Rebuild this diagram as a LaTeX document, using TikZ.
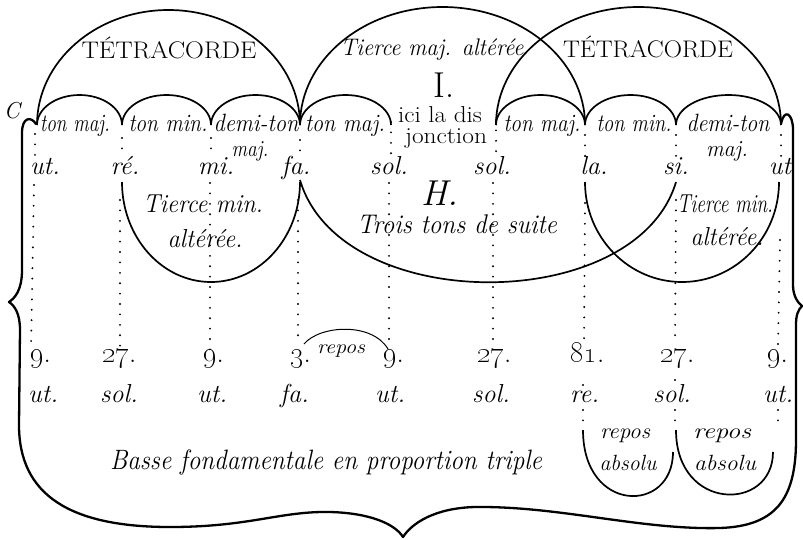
\documentclass[tikz,border=0pt]{standalone}
\usepackage{graphicx}
\newsavebox\fitbox
\newcommand\fitx[2]{\sbox\fitbox{#2}\pgfmathsetmacro\fitr{#1/\the\wd\fitbox}\scalebox{\fitr}[1]{\usebox\fitbox}}
\newcommand\fs[1]{\fontsize{#1}{#1}\selectfont}
\tikzset{
  lab/.style={inner sep=0pt, anchor=base},
  labw/.style={inner sep=0pt, anchor=base west},
  arcline/.style={line width=1.7pt},
  thinarc/.style={line width=1pt},
  dotline/.style={line width=2.1pt, line cap=round, dash pattern=on 0pt off 10.4pt},
  brace/.style={line width=2.3pt, line join=round, line cap=round},
}
\begin{document}
\begin{tikzpicture}[x=1pt,y=-1pt]
\useasboundingbox (0,0) rectangle (803,539);
% big arcs
\draw[arcline] (37,125) arc[start angle=180,end angle=360,x radius=131.5,y radius=115];
\draw[arcline] (300,125) arc[start angle=180,end angle=360,x radius=142.5,y radius=118];
\draw[arcline] (496,125) arc[start angle=180,end angle=360,x radius=142.5,y radius=118];
% small arcs
\foreach \a/\r in {37/42.5,122/44.5,211/44.5,300/45.5,496/44.5,585/45.5,676/52.5}
  \draw[arcline] (\a,125) arc[start angle=180,end angle=360,x radius=\r,y radius=30];
% lower curves
\draw[arcline] (122,182) arc[start angle=180,end angle=0,x radius=89,y radius=100];
\draw[arcline] (300,180) .. controls (340,316) and (636,316) .. (676,182);
\draw[arcline] (585,182) arc[start angle=180,end angle=0,x radius=97,y radius=100];
\draw[thinarc] (304,344) .. controls (320,325) and (372,322) .. (388,349);
\draw[arcline] (583,430) .. controls (583,514) and (673,514) .. (673,452);
\draw[arcline] (676,430) .. controls (676,512) and (773,512) .. (773,452);
% brace
\draw[brace] (36,124) .. controls (31,116) and (22,117) .. (22,133) -- (22,270)
  .. controls (22,290) and (15,298) .. (9,302) .. controls (15,306) and (20,314) .. (20,330)
  -- (19,425) .. controls (19,495) and (70,527) .. (170,527)
  .. controls (250,527) and (280,511) .. (330,512) .. controls (370,513) and (395,524) .. (403,537);
\draw[brace] (403,537) .. controls (412,523) and (435,508) .. (475,507)
  .. controls (560,506) and (640,530) .. (720,528) .. controls (775,526) and (796,500) .. (796,440)
  -- (796,325) .. controls (796,315) and (798,310) .. (802,306)
  .. controls (797,302) and (793,295) .. (793,285) -- (793,130)
  .. controls (793,113) and (784,108) .. (781,124);
% dotted lines
\draw[dotline] (35,134) -- (35,158);  \draw[dotline] (34,185) -- (31,350);
\draw[dotline] (122,138) -- (122,158); \draw[dotline] (120,200) -- (120,347);
\draw[dotline] (211,138) -- (211,158); \draw[dotline] (210,183) -- (210,350);
\draw[dotline] (300,140) -- (300,158); \draw[dotline] (298,200) -- (298,340);
\draw[dotline] (391,122) -- (391,156); \draw[dotline] (389,183) -- (389,345);
\draw[dotline] (496,120) -- (496,158); \draw[dotline] (493,183) -- (493,345);
\draw[dotline] (585,135) -- (585,158); \draw[dotline] (585,203) -- (584,345);
\draw[dotline] (583,385) -- (583,386); \draw[dotline] (583,410) -- (583,428);
\draw[dotline] (676,135) -- (676,160); \draw[dotline] (676,200) -- (675,345);
\draw[dotline] (675,380) -- (675,381); \draw[dotline] (675,410) -- (675,428);
\draw[dotline] (781,135) -- (781,160); \draw[dotline] (780,240) -- (778,345);
\draw[dotline] (778,410) -- (778,425);
% texts top
\node[lab] (C) at (12,118) {\fs{23}\itshape C};
\node[lab] (tetL) at (169,58) {\fs{24}\fitx{175}{TÉTRACORDE}};
\node[lab] (tetR) at (648,57) {\fs{24}\fitx{170}{TÉTRACORDE}};
\node[lab] (tma) at (432,55) {\fs{24}\itshape\fitx{183}{Tierce maj. altérée}};
\node[lab] (I) at (444,97) {\fs{36}I.};
\node[lab] (ici) at (440,122) {\fs{23}\fitx{84}{ici la dis}};
\node[lab] (jonc) at (446,143) {\fs{23}\fitx{82}{jonction}};
\node[lab] (l1) at (75,131) {\fs{25}\itshape\fitx{70}{ton maj.}};
\node[lab] (l2) at (168,131) {\fs{25}\itshape\fitx{79}{ton min.}};
\node[lab] (l3) at (256,131) {\fs{25}\itshape\fitx{85}{demi-ton}};
\node[lab] (l3b) at (250,156) {\fs{23}\itshape\fitx{37}{maj.}};
\node[lab] (l4) at (345,131) {\fs{25}\itshape\fitx{80}{ton maj.}};
\node[lab] (l5) at (542,131) {\fs{25}\itshape\fitx{77}{ton maj.}};
\node[lab] (l6) at (634,131) {\fs{25}\itshape\fitx{75}{ton min.}};
\node[lab] (l7) at (728,131) {\fs{25}\itshape\fitx{83}{demi-ton}};
\node[lab] (l7b) at (727,156) {\fs{23}\itshape\fitx{42}{maj.}};
% note row
\foreach \x/\t [count=\i] in {45/ut.,125/ré.,216/mi.,296/fa.,389/sol.,492/sol.,594/la.,676/si.,780/ut}
  \node[lab] (n\i) at (\x,174) {\fs{26}\itshape \t};
\node[lab] (tm1a) at (203,212) {\fs{26}\itshape\fitx{120}{Tierce min.}};
\node[lab] (tm1b) at (205,247) {\fs{26}\itshape\fitx{75}{altérée.}};
\node[lab] (H) at (440,205) {\fs{36}\itshape H.};
\node[lab] (trois) at (457,233) {\fs{27}\itshape\fitx{200}{Trois tons de suite}};
\node[lab] (tm2a) at (725,212) {\fs{26}\itshape\fitx{96}{Tierce min.}};
\node[lab] (tm2b) at (727,245) {\fs{26}\itshape\fitx{73}{altérée.}};
% numbers
\foreach \x/\t [count=\i] in {30/9,102/27,203/9,290/3,383/9,477/27,570/81,660/27,767/9}
  \node[labw] (m\i) at (\x,362) {\fs{29}\oldstylenums{\t}.};
\node[lab] (rep) at (341,353) {\fs{20}\itshape\fitx{48}{repos}};
\foreach \x/\t [count=\i] in {28/ut.,100/sol.,197/ut.,280/fa.,375/ut.,472/sol.,570/re.,653/sol.,763/ut.}
  \node[labw] (b\i) at (\x,402) {\fs{26}\itshape \t};
\node[lab] (basse) at (326,469) {\fs{28}\itshape\fitx{432}{Basse fondamentale en proportion triple}};
\node[lab] (ra1) at (625,438) {\fs{22}\itshape\fitx{50}{repos}};
\node[lab] (ab1) at (628,470) {\fs{22}\itshape\fitx{57}{absolu}};
\node[lab] (ra2) at (722,438) {\fs{22}\itshape\fitx{58}{repos}};
\node[lab] (ab2) at (725,470) {\fs{22}\itshape\fitx{62}{absolu}};
\end{tikzpicture}
\end{document}
